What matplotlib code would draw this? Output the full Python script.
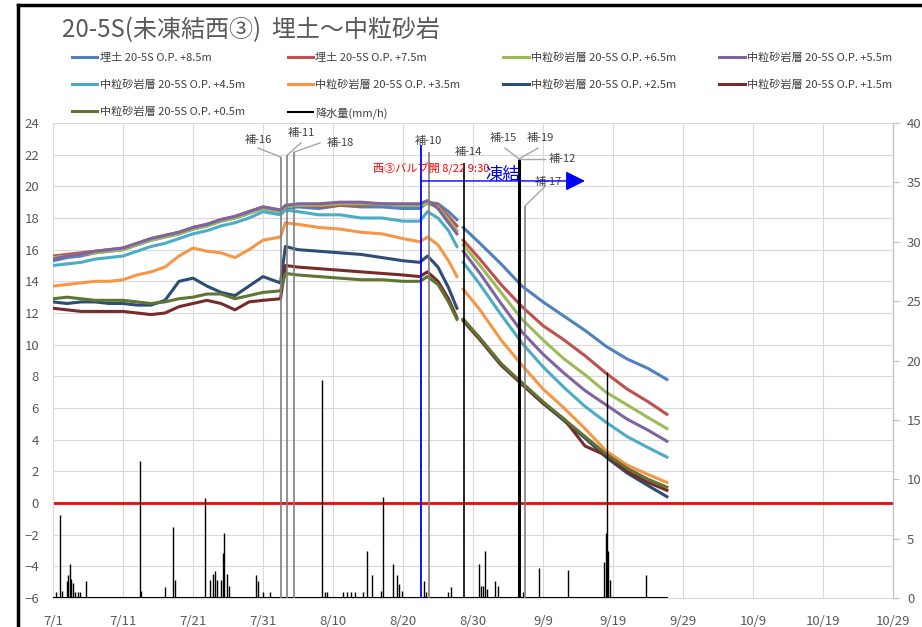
import numpy as np
import matplotlib
matplotlib.use("Agg")
import matplotlib.pyplot as plt
from matplotlib.lines import Line2D

plt.rcParams['font.family'] = ['Noto Sans CJK JP', 'DejaVu Sans']

# days counted from 7/1
days = [0, 2, 4, 6, 8, 10, 12, 14, 16, 18, 20, 22, 24, 26, 28, 30, 32.5, 33.2,
        35, 38, 41, 44, 47, 50, 52.4, 53.5, 55, 56.5, 57.7, 58.1,
        58.6, 61, 64, 67, 70, 73, 76, 79, 82, 85, 87.7]
nan = np.nan

s85 = [15.3, 15.5, 15.6, 15.8, 15.9, 16.0, 16.3, 16.6, 16.8, 17.0, 17.3, 17.5, 17.8, 18.0, 18.3, 18.6, 18.4, 18.6,
       18.7, 18.6, 18.8, 18.7, 18.7, 18.6, 18.6, 19.0, 18.9, 18.4, 17.9, nan,
       17.4, 16.4, 15.1, 13.7, 12.7, 11.8, 10.9, 9.9, 9.1, 8.5, 7.8]
s75 = [15.6, 15.7, 15.8, 15.9, 16.0, 16.1, 16.4, 16.7, 16.9, 17.1, 17.4, 17.6, 17.9, 18.1, 18.4, 18.7, 18.5, 18.7,
       18.8, 18.7, 18.8, 18.8, 18.9, 18.8, 18.8, 19.0, 18.8, 18.1, 17.5, nan,
       16.6, 15.4, 13.8, 12.4, 11.2, 10.3, 9.3, 8.2, 7.2, 6.4, 5.6]
s65 = [15.5, 15.6, 15.7, 15.8, 15.9, 16.0, 16.3, 16.6, 16.8, 17.0, 17.3, 17.5, 17.8, 18.0, 18.3, 18.6, 18.4, 18.7,
       18.8, 18.8, 18.9, 18.9, 18.9, 18.8, 18.8, 18.9, 18.7, 17.9, 17.2, nan,
       16.3, 15.0, 13.3, 11.6, 10.3, 9.1, 8.1, 7.0, 6.2, 5.4, 4.7]
s55 = [15.4, 15.6, 15.7, 15.9, 16.0, 16.1, 16.4, 16.7, 16.9, 17.1, 17.4, 17.6, 17.9, 18.1, 18.4, 18.7, 18.5, 18.8,
       18.9, 18.9, 19.0, 19.0, 18.9, 18.9, 18.9, 19.1, 18.6, 17.7, 17.0, nan,
       15.9, 14.5, 12.6, 10.8, 9.4, 8.2, 7.1, 6.2, 5.3, 4.6, 3.9]
s45 = [15.0, 15.1, 15.2, 15.4, 15.5, 15.6, 15.9, 16.2, 16.4, 16.7, 17.0, 17.2, 17.5, 17.7, 18.0, 18.4, 18.2, 18.5,
       18.4, 18.2, 18.2, 18.0, 18.0, 17.8, 17.8, 18.4, 18.0, 17.2, 16.2, nan,
       15.2, 13.8, 11.9, 10.1, 8.6, 7.3, 6.1, 5.1, 4.2, 3.5, 2.9]
s35 = [13.7, 13.8, 13.9, 14.0, 14.0, 14.1, 14.4, 14.6, 14.9, 15.6, 16.1, 15.9, 15.8, 15.5, 16.0, 16.6, 16.8, 17.7,
       17.6, 17.4, 17.3, 17.1, 17.0, 16.7, 16.5, 16.8, 16.3, 15.3, 14.3, nan,
       13.5, 12.2, 10.3, 8.7, 7.2, 6.0, 4.7, 3.3, 2.4, 1.8, 1.3]
s25 = [12.7, 12.6, 12.7, 12.7, 12.6, 12.6, 12.5, 12.5, 12.8, 14.0, 14.2, 13.7, 13.3, 13.1, 13.7, 14.3, 13.9, 16.2,
       16.0, 15.9, 15.8, 15.7, 15.5, 15.3, 15.2, 15.6, 14.9, 13.6, 12.3, nan,
       11.6, 10.4, 8.8, 7.5, 6.3, 5.2, 4.1, 2.9, 1.9, 1.1, 0.4]
s15 = [12.3, 12.2, 12.1, 12.1, 12.1, 12.1, 12.0, 11.9, 12.0, 12.4, 12.6, 12.8, 12.6, 12.2, 12.7, 12.8, 12.9, 15.0,
       14.9, 14.8, 14.7, 14.6, 14.5, 14.4, 14.3, 14.6, 14.0, 12.9, 11.7, nan,
       11.5, 10.3, 8.7, 7.5, 6.3, 5.3, 3.6, 3.0, 2.0, 1.3, 0.8]
s05 = [12.9, 13.0, 12.9, 12.8, 12.8, 12.8, 12.7, 12.6, 12.7, 12.9, 13.0, 13.2, 13.2, 12.9, 13.1, 13.3, 13.4, 14.5,
       14.4, 14.3, 14.2, 14.1, 14.1, 14.0, 14.0, 14.3, 13.8, 12.7, 11.6, nan,
       11.6, 10.4, 8.8, 7.6, 6.4, 5.3, 4.2, 3.1, 2.2, 1.5, 1.0]

labels = ["埋土 20-5S O.P. +8.5m", "埋土 20-5S O.P. +7.5m", "中粒砂岩層 20-5S O.P. +6.5m",
          "中粒砂岩層 20-5S O.P. +5.5m", "中粒砂岩層 20-5S O.P. +4.5m", "中粒砂岩層 20-5S O.P. +3.5m",
          "中粒砂岩層 20-5S O.P. +2.5m", "中粒砂岩層 20-5S O.P. +1.5m", "中粒砂岩層 20-5S O.P. +0.5m"]
colors = ["#4F81BD", "#C0504D", "#9BBB59", "#8064A2", "#4BACC6", "#F79646", "#2C4D75", "#772C2A", "#5F7530"]
series = [s85, s75, s65, s55, s45, s35, s25, s15, s05]

# rainfall (mm/h), right axis
rain_days = [0.4, 1.0, 1.3, 2.0, 2.2, 2.4, 2.6, 2.8, 3.2, 3.5, 3.8, 4.7,
             12.4, 12.6, 16.0, 17.2, 17.4,
             21.7, 22.5, 22.8, 23.2, 23.5, 24.0, 24.3, 24.5, 24.8, 25.1,
             29.0, 29.3, 30.0, 31.0, 38.4, 38.8, 39.2,
             41.5, 42.0, 42.6, 43.2, 44.3, 44.9, 45.6, 46.8, 47.1, 48.6, 49.2, 49.5, 49.8,
             53.0, 53.3, 56.4, 56.9,
             60.9, 61.1, 61.4, 61.7, 62.0, 63.2, 63.6,
             67.2, 69.4, 73.6, 78.7, 79.0, 79.1, 79.3, 79.6, 84.7]
rain_vals = [0.5, 7.0, 0.6, 1.4, 1.9, 2.9, 1.6, 1.3, 0.5, 0.5, 0.5, 1.4,
             11.5, 0.6, 0.9, 6.0, 1.5,
             8.4, 1.5, 2.0, 2.3, 1.5, 1.5, 3.8, 5.5, 2.0, 1.0,
             1.9, 1.4, 0.5, 0.5, 18.4, 0.5, 0.5,
             0.5, 0.5, 0.5, 0.5, 0.5, 4.0, 1.9, 0.6, 8.5, 2.9, 1.9, 1.2, 0.6,
             1.4, 0.5, 0.5, 0.9,
             2.9, 1.0, 1.0, 4.0, 0.8, 1.4, 1.0,
             0.5, 2.5, 2.4, 3.0, 5.5, 19.0, 4.0, 1.5, 1.9]
rain_span = [0, 87.7]

# construction events (day, top of line)
ev_days = [32.53, 33.47, 34.47, 53.71, 58.71, 66.57, 67.43]
ev_tops = [21.85, 21.98, 22.17, 22.17, 21.47, 21.73, 18.76]
ev_colors = ["#7F7F7F", "#7F7F7F", "#7F7F7F", "#7F7F7F", "#000000", "#000000", "#7F7F7F"]
ev_widths = [1.2, 1.2, 1.2, 1.2, 1.2, 2.2, 1.2]

ev_text = ["補-16", "補-11", "補-18", "補-10", "補-14", "補-15", "補-19", "補-12", "補-17"]
ev_text_pos = [(29.4, 22.93), (35.5, 23.37), (41.0, 22.74), (53.6, 22.86), (59.3, 22.17),
               (64.3, 23.05), (69.6, 23.05), (72.7, 21.73), (70.7, 20.27)]
leaders = [((29.29, 22.42), (32.53, 21.85)), ((35.43, 22.74), (33.47, 21.98)),
           ((38.14, 22.74), (34.47, 22.17)), ((64.57, 22.42), (66.57, 21.73)),
           ((69.29, 22.42), (66.57, 21.73)), ((66.71, 21.73), (70.29, 21.73)),
           ((70.29, 20.0), (67.43, 18.76))]

valve_day = 52.64
xtick_pos = list(range(0, 121, 10))
xtick_lab = ["7/1", "7/11", "7/21", "7/31", "8/10", "8/20", "8/30", "9/9", "9/19",
             "9/29", "10/9", "10/19", "10/29"]

fig = plt.figure(figsize=(9.22, 6.27), dpi=100)
ax = fig.add_axes([53/922, 1-598/627, 840/922, 475/627])
ax2 = ax.twinx()

for s, c, l in zip(series, colors, labels):
    ax.plot(days, s, color=c, lw=2.2, label=l, zorder=3)

ax.axhline(0, color="#FF0000", lw=2.0, zorder=2)

ax.set_xlim(0, 120)
ax.set_ylim(-6, 24)
ax.set_yticks(np.arange(-6, 25, 2))
ax.set_xticks(xtick_pos)
ax.set_xticklabels(xtick_lab)
ax.grid(True, color="#D9D9D9", lw=0.8)
ax.set_axisbelow(True)
ax.tick_params(axis="both", length=0, labelsize=9.5, labelcolor="#595959")
ax.tick_params(axis="x", pad=12)
ax.tick_params(axis="y", pad=10)
for sp in ax.spines.values():
    sp.set_color("#D9D9D9")

ax2.set_ylim(0, 40)
ax2.set_yticks(np.arange(0, 41, 5))
ax2.tick_params(axis="y", length=4, color="#BFBFBF", labelsize=9.5, labelcolor="#595959", pad=6)
for sp in ax2.spines.values():
    sp.set_visible(False)
ax2.spines["right"].set_visible(True)
ax2.spines["right"].set_color("#BFBFBF")

ax2.vlines(rain_days, 0, rain_vals, color="black", lw=1.0)
rain_line, = ax2.plot(rain_span, [0, 0], color="black", lw=1.5, label="降水量(mm/h)")

# events
ax2.vlines(ev_days, -6, ev_tops, colors=ev_colors, linewidths=ev_widths, transform=ax.transData)
for (a, b) in leaders:
    ax2.plot([a[0], b[0]], [a[1], b[1]], color="#A6A6A6", lw=1.0, transform=ax.transData)
for t, (x, y) in zip(ev_text, ev_text_pos):
    ax2.text(x, y, t, fontsize=8, color="#404040", ha="center", va="center", transform=ax.transData)

ax2.vlines([valve_day], -6, 22.61, colors="#0000FF", linewidths=1.3, transform=ax.transData)
ax2.text(54.0, 21.1, "西③バルブ開 8/22 9:30", fontsize=8, color="#FF0000", ha="center", va="center",
         transform=ax.transData)
ax2.annotate("", xy=(76.0, 20.34), xytext=(valve_day, 20.34), xycoords=ax.transData, textcoords=ax.transData,
             arrowprops=dict(arrowstyle="-|>,head_length=0.6,head_width=0.3", color="#0000FF", lw=1.0,
                             mutation_scale=20, shrinkA=0, shrinkB=0))
ax2.text(64.3, 20.72, "凍結", fontsize=12.5, color="#0000FF", ha="center", va="center", transform=ax.transData)

# legend, row-major order
h = ax.get_lines()[:9]
order = [h[0], h[4], h[8], h[1], h[5], rain_line, h[2], h[6], h[3], h[7]]
fig.legend(handles=order, labels=[o.get_label() for o in order], ncol=4, loc="center",
           bbox_to_anchor=(482/922, 1-86/627), frameon=False, fontsize=8, labelcolor="#404040",
           handlelength=2.3, handletextpad=0.2, columnspacing=3.85, labelspacing=1.5)

fig.text(62/922, 1-30/627, "20-5S(未凍結西③)  埋土～中粒砂岩", fontsize=17.3, color="#595959",
         ha="left", va="center")

# screenshot frame
fig.add_artist(Line2D([18/922, 18/922], [0, 1-5/627], color="black", lw=2.5))
fig.add_artist(Line2D([18/922, 1], [1-5/627, 1-5/627], color="black", lw=2.5))

fig.savefig("out.png", dpi=100)
